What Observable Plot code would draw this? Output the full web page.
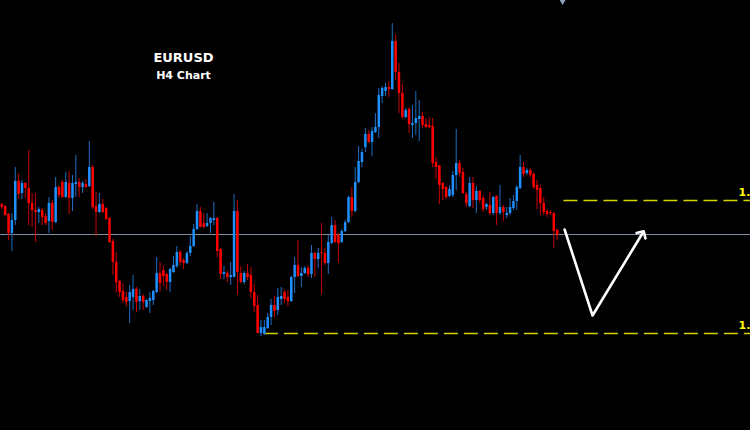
<!DOCTYPE html>
<html>
<head>
<meta charset="utf-8">
<script src="https://cdn.jsdelivr.net/npm/d3@7"></script>
<script src="https://cdn.jsdelivr.net/npm/@observablehq/plot@0.6"></script>
<style>
  html, body { margin: 0; padding: 0; background: #000; overflow: hidden; }
  #chart { width: 750px; height: 430px; }
</style>
</head>
<body>
<div id="chart"></div>
<script>
// EURUSD, H4 bars (oldest first)
const open = [1.1226,1.1224,1.1216,1.1197,1.1210,1.1249,1.1237,1.1247,1.1242,1.1227,
1.1220,1.1218,1.1220,1.1214,1.1209,1.1227,1.1208,1.1243,1.1248,1.1233,
1.1247,1.1232,1.1246,1.1248,1.1243,1.1246,1.1244,1.1263,1.1224,1.1218,
1.1226,1.1222,1.1212,1.1189,1.1168,1.1149,1.1139,1.1133,1.1129,1.1133,
1.1141,1.1129,1.1134,1.1123,1.1129,1.1130,1.1138,1.1157,1.1160,1.1156,
1.1148,1.1158,1.1164,1.1178,1.1170,1.1167,1.1177,1.1184,1.1201,1.1219,
1.1207,1.1204,1.1207,1.1210,1.1212,1.1181,1.1156,1.1157,1.1153,1.1153,
1.1219,1.1157,1.1148,1.1157,1.1155,1.1138,1.1125,1.1097,1.1096,1.1102,
1.1113,1.1125,1.1120,1.1131,1.1138,1.1133,1.1129,1.1153,1.1165,1.1154,
1.1157,1.1162,1.1156,1.1177,1.1171,1.1178,1.1177,1.1167,1.1187,1.1205,
1.1195,1.1188,1.1199,1.1208,1.1233,1.1219,1.1248,1.1268,1.1283,1.1296,
1.1288,1.1298,1.1303,1.1334,1.1339,1.1343,1.1341,1.1389,1.1358,1.1337,
1.1313,1.1321,1.1305,1.1307,1.1311,1.1314,1.1306,1.1305,1.1304,1.1268,
1.1265,1.1247,1.1243,1.1234,1.1235,1.1255,1.1267,1.1258,1.1236,1.1224,
1.1247,1.1230,1.1239,1.1232,1.1223,1.1225,1.1217,1.1234,1.1217,1.1223,
1.1215,1.1217,1.1222,1.1229,1.1242,1.1263,1.1257,1.1260,1.1256,1.1245,
1.1242,1.1227,1.1219,1.1218,1.1217,1.1200];

const high = [1.1227,1.1225,1.1217,1.1217,1.1263,1.1257,1.1250,1.1248,1.1280,1.1237,
1.1237,1.1223,1.1222,1.1217,1.1233,1.1230,1.1253,1.1245,1.1250,1.1258,
1.1259,1.1255,1.1275,1.1252,1.1249,1.1251,1.1289,1.1265,1.1238,1.1237,
1.1231,1.1223,1.1213,1.1191,1.1178,1.1150,1.1147,1.1138,1.1145,1.1155,
1.1143,1.1141,1.1136,1.1131,1.1138,1.1140,1.1173,1.1168,1.1165,1.1157,
1.1162,1.1174,1.1184,1.1180,1.1172,1.1179,1.1194,1.1206,1.1226,1.1223,
1.1217,1.1217,1.1213,1.1228,1.1213,1.1182,1.1164,1.1159,1.1168,1.1236,
1.1230,1.1164,1.1159,1.1166,1.1163,1.1146,1.1135,1.1110,1.1110,1.1117,
1.1131,1.1134,1.1142,1.1143,1.1140,1.1140,1.1154,1.1173,1.1190,1.1163,
1.1164,1.1165,1.1185,1.1178,1.1182,1.1207,1.1182,1.1195,1.1213,1.1210,
1.1197,1.1201,1.1210,1.1234,1.1243,1.1263,1.1284,1.1281,1.1302,1.1300,
1.1303,1.1317,1.1342,1.1344,1.1347,1.1349,1.1407,1.1396,1.1367,1.1346,
1.1322,1.1323,1.1325,1.1339,1.1330,1.1318,1.1312,1.1313,1.1312,1.1273,
1.1265,1.1248,1.1245,1.1245,1.1259,1.1301,1.1270,1.1262,1.1238,1.1253,
1.1253,1.1244,1.1240,1.1235,1.1227,1.1238,1.1234,1.1235,1.1245,1.1225,
1.1223,1.1232,1.1235,1.1245,1.1275,1.1268,1.1262,1.1262,1.1258,1.1250,
1.1245,1.1233,1.1221,1.1220,1.1218,1.1202];

const low = [1.1221,1.1214,1.1190,1.1179,1.1205,1.1231,1.1231,1.1232,1.1205,1.1203,
1.1188,1.1207,1.1205,1.1205,1.1197,1.1200,1.1207,1.1232,1.1232,1.1232,
1.1216,1.1219,1.1233,1.1233,1.1237,1.1242,1.1243,1.1221,1.1194,1.1217,
1.1217,1.1210,1.1187,1.1155,1.1137,1.1133,1.1127,1.1123,1.1107,1.1120,
1.1118,1.1120,1.1120,1.1122,1.1117,1.1125,1.1137,1.1138,1.1144,1.1140,
1.1138,1.1157,1.1162,1.1165,1.1161,1.1166,1.1174,1.1183,1.1200,1.1203,
1.1202,1.1203,1.1197,1.1205,1.1173,1.1151,1.1151,1.1148,1.1145,1.1153,
1.1135,1.1147,1.1146,1.1150,1.1132,1.1118,1.1097,1.1094,1.1095,1.1101,
1.1105,1.1113,1.1115,1.1125,1.1127,1.1124,1.1128,1.1137,1.1153,1.1143,
1.1156,1.1153,1.1152,1.1153,1.1162,1.1136,1.1165,1.1156,1.1186,1.1187,
1.1167,1.1187,1.1198,1.1207,1.1213,1.1218,1.1247,1.1263,1.1278,1.1287,
1.1274,1.1297,1.1292,1.1327,1.1334,1.1333,1.1340,1.1350,1.1317,1.1311,
1.1312,1.1297,1.1292,1.1295,1.1289,1.1302,1.1302,1.1302,1.1263,1.1251,
1.1226,1.1230,1.1231,1.1233,1.1233,1.1240,1.1253,1.1236,1.1223,1.1223,
1.1222,1.1217,1.1227,1.1218,1.1220,1.1215,1.1215,1.1205,1.1215,1.1209,
1.1212,1.1215,1.1220,1.1220,1.1241,1.1253,1.1255,1.1253,1.1241,1.1221,
1.1215,1.1215,1.1213,1.1215,1.1182,1.1190];

const close = [1.1223,1.1215,1.1197,1.1210,1.1249,1.1236,1.1247,1.1242,1.1227,1.1220,
1.1218,1.1221,1.1213,1.1207,1.1227,1.1208,1.1243,1.1235,1.1233,1.1248,
1.1232,1.1247,1.1248,1.1243,1.1247,1.1243,1.1263,1.1223,1.1218,1.1226,
1.1218,1.1211,1.1188,1.1168,1.1148,1.1138,1.1130,1.1128,1.1138,1.1141,
1.1128,1.1134,1.1128,1.1130,1.1132,1.1139,1.1157,1.1147,1.1154,1.1148,
1.1161,1.1165,1.1178,1.1168,1.1167,1.1177,1.1184,1.1201,1.1219,1.1203,
1.1203,1.1207,1.1212,1.1212,1.1179,1.1156,1.1158,1.1153,1.1155,1.1219,
1.1158,1.1148,1.1157,1.1153,1.1138,1.1124,1.1097,1.1103,1.1103,1.1113,
1.1125,1.1119,1.1133,1.1134,1.1131,1.1129,1.1153,1.1165,1.1154,1.1157,
1.1162,1.1156,1.1177,1.1171,1.1177,1.1177,1.1167,1.1188,1.1205,1.1188,
1.1187,1.1199,1.1208,1.1233,1.1219,1.1248,1.1269,1.1278,1.1296,1.1288,
1.1299,1.1303,1.1335,1.1342,1.1343,1.1341,1.1389,1.1358,1.1337,1.1313,
1.1320,1.1306,1.1307,1.1312,1.1314,1.1305,1.1303,1.1303,1.1267,1.1263,
1.1245,1.1241,1.1233,1.1241,1.1255,1.1267,1.1257,1.1237,1.1227,1.1247,
1.1230,1.1239,1.1230,1.1221,1.1226,1.1217,1.1233,1.1217,1.1223,1.1218,
1.1217,1.1223,1.1229,1.1243,1.1263,1.1256,1.1260,1.1255,1.1243,1.1240,
1.1227,1.1218,1.1216,1.1217,1.1199,1.1195];

// Horizontal reference levels: current price line, resistance and support
const currentPrice = 1.1196;
const levelPrices = [1.1230, 1.1097];
const levelStartBars = [168, 79];

// Projected path drawn as an arrow (bar number, price)
const arrowBars = [168.2, 176.5, 191.3];
const arrowPrices = [1.1201, 1.1115, 1.1197];

// Marker for the latest bar at the top edge
const markerBar = [167.6];
const markerPrice = [1.1431];

const titleLines = ["EURUSD", "H4 Chart"];

// Chart window: bar numbers and price range shown
const barDomain = [0.614, 223.43];
const priceDomain = [1.1000, 1.1430];

const bars = open.map((o, i) => ({
  bar: i + 1,
  open: o,
  high: high[i],
  low: low[i],
  close: close[i],
  up: close[i] >= o
}));
const levels = levelPrices.map((p, i) => ({price: p, from: levelStartBars[i], to: barDomain[1]}));
const arrow = arrowBars.map((b, i) => ({bar: b, price: arrowPrices[i]}));
const marker = markerBar.map((b, i) => ({bar: b, price: markerPrice[i]}));

const UP = "#1e90ff", DOWN = "#ff0000";
const UP_WICK = "#1d6fc4", DOWN_WICK = "#c80000";

const chart = Plot.plot({
  width: 750,
  height: 430,
  margin: 0,
  style: {background: "#000", color: "#fff", fontFamily: "DejaVu Sans, sans-serif", overflow: "hidden"},
  x: {domain: barDomain, axis: null},
  y: {domain: priceDomain, axis: null},
  marks: [
    Plot.ruleY([currentPrice], {stroke: "#7f8ea3", strokeWidth: 1}),
    Plot.ruleY(levels, {y: "price", x1: "from", x2: "to", stroke: "#d4d400", strokeWidth: 1.6, strokeDasharray: "14,6"}),
    // price tags sit at the right edge and run past it, as on the trading terminal
    Plot.text(levels, {
      y: "price", text: d => d.price.toFixed(4), frameAnchor: "right",
      textAnchor: "start", lineAnchor: "bottom", dx: -12, dy: -4.5,
      fill: "#ffff00", fontWeight: "bold", fontSize: 11
    }),
    Plot.ruleX(bars, {x: "bar", y1: "low", y2: "high", stroke: d => d.up ? UP_WICK : DOWN_WICK, strokeWidth: 1}),
    Plot.ruleX(bars, {x: "bar", y1: "open", y2: "close", stroke: d => d.up ? UP : DOWN, strokeWidth: 2.5}),
    Plot.line(arrow, {x: "bar", y: "price", stroke: "#fff", strokeWidth: 2.6, markerEnd: "arrow"}),
    Plot.dot(marker, {x: "bar", y: "price", symbol: "diamond", r: 3.4, fill: "#8aa0bd"}),
    Plot.text([titleLines[0]], {
      text: d => d, frameAnchor: "top-left", textAnchor: "middle", lineAnchor: "bottom",
      dx: 183, dy: 61.7, fill: "#fff", fontWeight: "bold", fontSize: 13
    }),
    Plot.text([titleLines[1]], {
      text: d => d, frameAnchor: "top-left", textAnchor: "middle", lineAnchor: "bottom",
      dx: 183, dy: 78.3, fill: "#fff", fontWeight: "bold", fontSize: 11
    })
  ]
});

document.getElementById("chart").append(chart);
</script>
</body>
</html>
